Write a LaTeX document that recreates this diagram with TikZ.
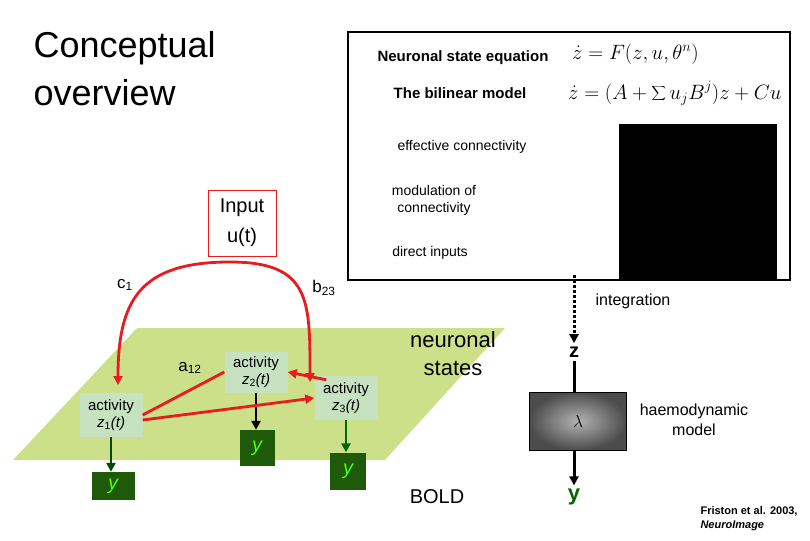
\documentclass[tikz,border=0pt]{standalone}
\usepackage{fontspec}
\setmainfont{Liberation Sans}
\usetikzlibrary{arrows.meta}
\definecolor{plane}{HTML}{CCE08A}
\definecolor{act}{HTML}{C6E2C0}
\definecolor{ybox}{HTML}{1E5A0A}
\definecolor{redc}{HTML}{E81C1C}
\begin{document}
\begin{tikzpicture}[x=1pt,y=-1pt,
  act/.style={fill=act,align=center,font=\fontsize{15}{17}\selectfont,inner sep=0pt},
  yb/.style={fill=ybox,text=green!70!yellow,font=\fontsize{20}{20}\selectfont\itshape,inner sep=0pt},
  lbl/.style={font=\fontsize{14}{17}\selectfont,align=center},
  red/.style={draw=redc,line width=2.8pt,-{Triangle[length=9pt,width=9pt]}},
  blk/.style={draw=black,line width=3pt,-{Triangle[length=9pt,width=9pt]}}]
\useasboundingbox (0,0) rectangle (810,540);
% title
\node[anchor=west,font=\fontsize{36}{48}\selectfont,align=left] (title) at (30,69) {Conceptual\\overview};
% frame
\draw[line width=1.5pt] (348,32) rectangle (790,280);
\fill[black] (619,124) rectangle (777,279);
\node[font=\bfseries\fontsize{15}{18}\selectfont] (nse) at (463,58) {Neuronal state equation};
\node[font=\fontsize{22}{24}\selectfont,anchor=west,inner sep=0pt] (eq1) at (572,54) {$\dot z = F(z,u,\theta^n)$};
\node[font=\bfseries\fontsize{15}{18}\selectfont] (bil) at (460,93) {The bilinear model};
\node[font=\fontsize{20}{24}\selectfont,anchor=west,inner sep=0pt] (eq2) at (568,93) {$\dot z = (A+\displaystyle\sum u_j B^j)z + Cu$};
\node[lbl] (ec) at (462,147) {effective connectivity};
\node[lbl] (mod) at (434,200) {modulation of\\connectivity};
\node[lbl] (di) at (430,253) {direct inputs};
% plane
\fill[plane] (137,328) -- (505,328) -- (385,460) -- (13,460) -- cycle;
% activity nodes
\node[act,minimum width=63,minimum height=44] (z1) at (111,415) {activity\\\textit{z}\textsubscript{1}\textit{(t)}};
\node[act,minimum width=63,minimum height=41] (z2) at (256,372) {activity\\\textit{z}\textsubscript{2}\textit{(t)}};
\node[act,minimum width=63,minimum height=44] (z3) at (346,398) {activity\\\textit{z}\textsubscript{3}\textit{(t)}};
\node[yb,minimum width=43,minimum height=28] (y1) at (113,486) {y};
\node[yb,minimum width=35,minimum height=36] (y2) at (257,448) {y};
\node[yb,minimum width=36,minimum height=37] (y3) at (348,471) {y};
\draw[blk,line width=2.5pt,draw=black!70!green] (z1.south) -- (y1.north -| z1.south);
\draw[blk,line width=2.5pt] (z2.south) -- (y2.north -| z2.south);
\draw[blk,line width=2.5pt,draw=black!60!green] (z3.south) -- (y3.north -| z3.south);
% input
\node[draw=redc,line width=1pt,fill=white,font=\fontsize{20}{30}\selectfont,align=center,minimum width=68,minimum height=66] (inp) at (242,223) {Input\\u(t)};
\coordinate (top) at (230,262);
\draw[red] (top) .. controls (140,262) and (118,300) .. (118,385);
\draw[red] (top) .. controls (310,262) and (310,300) .. (310,382);
\draw[draw=redc,line width=2.8pt] (z2.west) -- (z1.east);
\draw[red] (z1.east) ++(0,5) -- (z3.west);
\draw[red] (z3.north west) ++(12,4) -- (z2.east);
\node[font=\fontsize{17}{20}\selectfont] (c1) at (125,285) {c\textsubscript{1}};
\node[font=\fontsize{17}{20}\selectfont] (b23) at (324,288) {b\textsubscript{23}};
\node[font=\fontsize{17}{20}\selectfont] (a12) at (190,368) {a\textsubscript{12}};
\node[font=\fontsize{22}{28}\selectfont,align=center] (ns) at (453,354) {neuronal\\states};
\node[font=\fontsize{20}{24}\selectfont] (bold) at (437,497) {BOLD};
% right pipeline
\node[lbl,font=\fontsize{16}{18}\selectfont] (integ) at (633,301) {integration};
\coordinate (dtop) at (574,275);
\node[font=\bfseries\fontsize{20}{24}\selectfont] (z) at (574,352) {z};
\draw[line width=3pt,dotted,-{Triangle[length=9pt,width=9pt]}] (dtop) -- (z.north);
\node[draw=black,inner color=gray!60,outer color=black!70,minimum width=97,minimum height=58,font=\fontsize{18}{20}\selectfont] (lam) at (578,421) {$\lambda$};
\draw[line width=3pt] (z.south) -- (lam.north -| z.south);
\node[font=\bfseries\fontsize{22}{24}\selectfont,text=green!40!black] (yo) at (574,497) {y};
\draw[blk] (lam.south -| yo.north) -- (yo.north);
\node[lbl,font=\fontsize{16}{20}\selectfont] (hm) at (694,420) {haemodynamic\\model};
\node[font=\bfseries\fontsize{11}{14}\selectfont,align=left,anchor=west] (fr) at (697,519) {Friston et al. 2003,\\\textit{NeuroImage}};
\end{tikzpicture}
\end{document}
